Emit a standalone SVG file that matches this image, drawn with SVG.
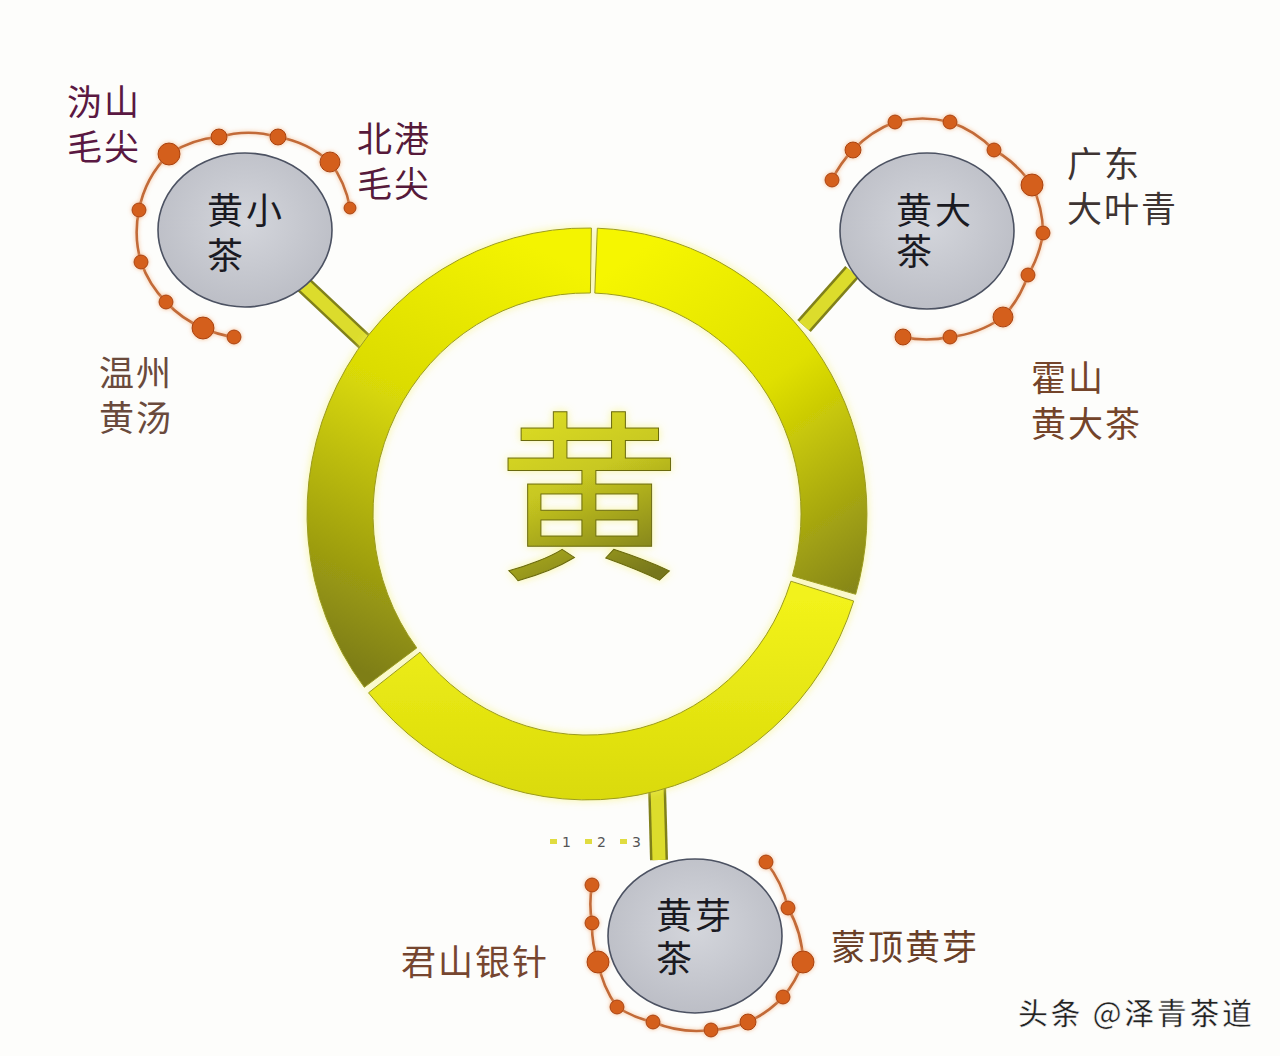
<svg xmlns="http://www.w3.org/2000/svg" width="1280" height="1056" viewBox="0 0 1280 1056">
<defs>
<style>
.lbl{font-family:"Noto Sans CJK SC","Noto Sans",sans-serif;font-size:35px;letter-spacing:2px}
.nt{font-family:"Noto Sans CJK SC","Noto Sans",sans-serif;font-size:36px;letter-spacing:3px;fill:#1a1a22}
.node{fill:url(#gray);stroke:#4c5262;stroke-width:1.6}
.arc{fill:none;stroke:#c26a38;stroke-width:2.6;filter:url(#glow)}
.dot{fill:#d45e1c;stroke:#a8420e;stroke-width:1;filter:url(#glow)}
.stubo{stroke:#80801a;stroke-width:18;stroke-linecap:butt}
.stubi{stroke:#dcdc2c;stroke-width:13;stroke-linecap:butt}
.seg{stroke:#9a9a20;stroke-width:1}
</style>
<radialGradient id="gray" cx="50%" cy="45%" r="60%">
<stop offset="0" stop-color="#d4d6dc"/>
<stop offset="1" stop-color="#babcc4"/>
</radialGradient>
<linearGradient id="gR" gradientUnits="userSpaceOnUse" x1="640" y1="250" x2="870" y2="580">
<stop offset="0" stop-color="#f6f600"/>
<stop offset="0.45" stop-color="#e0e000"/>
<stop offset="1" stop-color="#86861a"/>
</linearGradient>
<linearGradient id="gL" gradientUnits="userSpaceOnUse" x1="540" y1="250" x2="340" y2="660">
<stop offset="0" stop-color="#f4f400"/>
<stop offset="0.4" stop-color="#dcdc06"/>
<stop offset="1" stop-color="#7e7e16"/>
</linearGradient>
<linearGradient id="gB" gradientUnits="userSpaceOnUse" x1="600" y1="600" x2="600" y2="800">
<stop offset="0" stop-color="#f2f21a"/>
<stop offset="1" stop-color="#dada0a"/>
</linearGradient>
<linearGradient id="gT" x1="0" y1="0" x2="0.3" y2="1">
<stop offset="0" stop-color="#ecec2a"/>
<stop offset="0.55" stop-color="#c8c820"/>
<stop offset="1" stop-color="#76761a"/>
</linearGradient>
<filter id="glow" x="-30%" y="-30%" width="160%" height="160%">
<feGaussianBlur in="SourceAlpha" stdDeviation="2.2" result="blur"/>
<feFlood flood-color="#f2a870" flood-opacity="0.75" result="col"/>
<feComposite operator="in" in="col" in2="blur" result="g"/>
<feMerge><feMergeNode in="g"/><feMergeNode in="SourceGraphic"/></feMerge>
</filter>
<filter id="yglow" x="-10%" y="-10%" width="120%" height="120%">
<feGaussianBlur in="SourceAlpha" stdDeviation="4" result="b"/>
<feFlood flood-color="#f4f060" flood-opacity="0.6" result="c"/>
<feComposite operator="in" in="c" in2="b" result="g"/>
<feMerge><feMergeNode in="g"/><feMergeNode in="SourceGraphic"/></feMerge>
</filter>
</defs>
<rect width="1280" height="1056" fill="#fdfdfb"/>

<g id="connectors">
<line class="stubo" x1="302" y1="283" x2="367" y2="344"/>
<line class="stubi" x1="302" y1="283" x2="367" y2="344"/>
<line class="stubo" x1="852" y1="272" x2="804" y2="326"/>
<line class="stubi" x1="852" y1="272" x2="804" y2="326"/>
<line class="stubo" x1="657" y1="785" x2="659" y2="860"/>
<line class="stubi" x1="657" y1="785" x2="659" y2="860"/>
</g>

<g id="ring" filter="url(#yglow)">
<path class="seg" fill="url(#gR)" d="M597.3 228.2 A280 286 0 0 1 855.7 594.3 L792.4 576.0 A214 221 0 0 0 594.8 293.1 Z"/>
<path class="seg" fill="url(#gB)" d="M853.7 601.0 A280 286 0 0 1 368.5 692.8 L420.0 652.2 A214 221 0 0 0 790.9 581.2 Z"/>
<path class="seg" fill="url(#gL)" d="M364.3 687.3 A280 286 0 0 1 591.4 228.0 L590.4 293.0 A214 221 0 0 0 416.8 647.9 Z"/>
<text x="589" y="565" text-anchor="middle" font-family="Noto Sans CJK SC, sans-serif" font-size="182" fill="url(#gT)" stroke="#6a6a10" stroke-width="1">黄</text>
</g>

<g id="node-xiao">
<path class="arc" d="M234 337 A106 106 0 0 1 203 328 A106 106 0 0 1 166 302 A106 106 0 0 1 141 262 A106 106 0 0 1 139 210 A106 106 0 0 1 169 154 A106 106 0 0 1 219 137 A106 106 0 0 1 278 137 A106 106 0 0 1 330 162 A106 106 0 0 1 350 208"/>
<circle class="dot" cx="234" cy="337" r="7"/>
<circle class="dot" cx="203" cy="328" r="11"/>
<circle class="dot" cx="166" cy="302" r="7"/>
<circle class="dot" cx="141" cy="262" r="7"/>
<circle class="dot" cx="139" cy="210" r="7"/>
<circle class="dot" cx="169" cy="154" r="11"/>
<circle class="dot" cx="219" cy="137" r="8"/>
<circle class="dot" cx="278" cy="137" r="8"/>
<circle class="dot" cx="330" cy="162" r="10"/>
<circle class="dot" cx="350" cy="208" r="6"/>
<ellipse class="node" cx="245" cy="230" rx="87" ry="77"/>
<text class="nt"><tspan x="207" y="224">黄小</tspan><tspan x="207" y="269">茶</tspan></text>
</g>

<g id="node-da">
<path class="arc" d="M832 180 A112 112 0 0 1 853 150 A112 112 0 0 1 895 122 A112 112 0 0 1 950 122 A112 112 0 0 1 994 150 A112 112 0 0 1 1032 185 A112 112 0 0 1 1043 233 A112 112 0 0 1 1028 275 A112 112 0 0 1 1003 317 A112 112 0 0 1 950 337 A112 112 0 0 1 903 337"/>
<circle class="dot" cx="832" cy="180" r="7"/>
<circle class="dot" cx="853" cy="150" r="8"/>
<circle class="dot" cx="895" cy="122" r="7"/>
<circle class="dot" cx="950" cy="122" r="7"/>
<circle class="dot" cx="994" cy="150" r="7"/>
<circle class="dot" cx="1032" cy="185" r="11"/>
<circle class="dot" cx="1043" cy="233" r="7"/>
<circle class="dot" cx="1028" cy="275" r="7"/>
<circle class="dot" cx="1003" cy="317" r="10"/>
<circle class="dot" cx="950" cy="337" r="7"/>
<circle class="dot" cx="903" cy="337" r="8"/>
<ellipse class="node" cx="927" cy="231" rx="87" ry="78"/>
<text class="nt"><tspan x="896" y="224">黄大</tspan><tspan x="896" y="265">茶</tspan></text>
</g>

<g id="node-ya">
<path class="arc" d="M766 862 A112 112 0 0 1 788 908 A112 112 0 0 1 803 962 A112 112 0 0 1 783 997 A112 112 0 0 1 748 1022 A112 112 0 0 1 711 1030 A112 112 0 0 1 653 1022 A112 112 0 0 1 617 1007 A112 112 0 0 1 598 962 A112 112 0 0 1 592 923 A112 112 0 0 1 592 885"/>
<circle class="dot" cx="766" cy="862" r="7"/>
<circle class="dot" cx="788" cy="908" r="7"/>
<circle class="dot" cx="803" cy="962" r="11"/>
<circle class="dot" cx="783" cy="997" r="7"/>
<circle class="dot" cx="748" cy="1022" r="8"/>
<circle class="dot" cx="711" cy="1030" r="7"/>
<circle class="dot" cx="653" cy="1022" r="7"/>
<circle class="dot" cx="617" cy="1007" r="7"/>
<circle class="dot" cx="598" cy="962" r="11"/>
<circle class="dot" cx="592" cy="923" r="7"/>
<circle class="dot" cx="592" cy="885" r="7"/>
<ellipse class="node" cx="695" cy="936" rx="87" ry="77"/>
<text class="nt"><tspan x="656" y="929">黄芽</tspan><tspan x="656" y="972">茶</tspan></text>
</g>

<g id="labels">
<text class="lbl" fill="#5a1842"><tspan x="67" y="115">沩山</tspan><tspan x="67" y="160">毛尖</tspan></text>
<text class="lbl" fill="#561a3a"><tspan x="357" y="152">北港</tspan><tspan x="357" y="197">毛尖</tspan></text>
<text class="lbl" fill="#6a4a3c"><tspan x="99" y="386">温州</tspan><tspan x="99" y="431">黄汤</tspan></text>
<text class="lbl" fill="#3e3432"><tspan x="1067" y="177">广东</tspan><tspan x="1067" y="222">大叶青</tspan></text>
<text class="lbl" fill="#74442a"><tspan x="1031" y="391">霍山</tspan><tspan x="1031" y="437">黄大茶</tspan></text>
<text class="lbl" x="401" y="975" fill="#764630">君山银针</text>
<text class="lbl" x="831" y="960" fill="#6a4028">蒙顶黄芽</text>
</g>

<g id="legend" font-family="DejaVu Sans, sans-serif" font-size="14" fill="#555">
<rect x="550" y="839" width="7" height="5" fill="#e0dc40"/>
<text x="562" y="847">1</text>
<rect x="585" y="839" width="7" height="5" fill="#e0dc40"/>
<text x="597" y="847">2</text>
<rect x="620" y="839" width="7" height="5" fill="#e0dc40"/>
<text x="632" y="847">3</text>
</g>

<g id="watermark">
<text x="1018" y="1024" font-family="Noto Sans CJK SC, sans-serif" font-size="30" font-weight="500" fill="#222" stroke="#ffffff" stroke-width="0.6" textLength="234" lengthAdjust="spacing">头条 @泽青茶道</text>
</g>
</svg>
